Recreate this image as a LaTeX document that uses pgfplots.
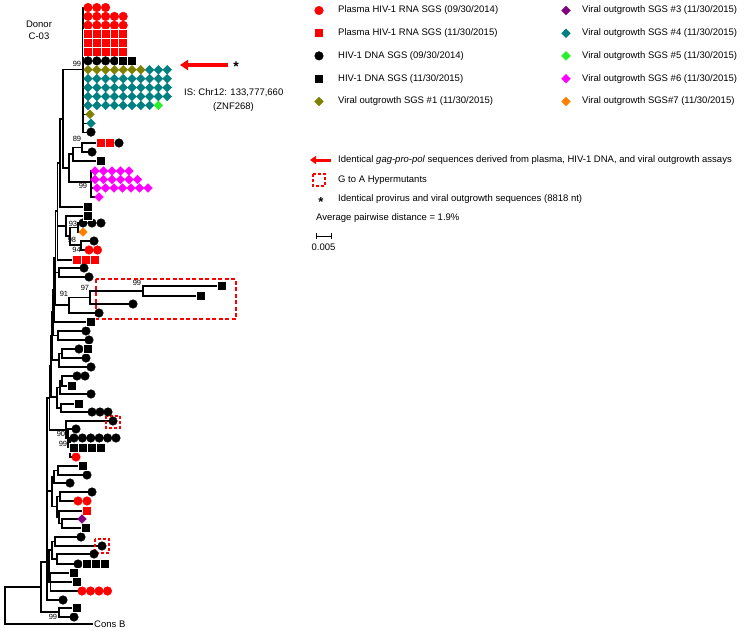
\documentclass[border=0pt]{standalone}
\usepackage{fontspec}
\setmainfont{Liberation Sans}
\usepackage{pgfplots}
\pgfplotsset{compat=1.18}
\usetikzlibrary{arrows.meta}
\definecolor{pred}{RGB}{255,0,0}
\definecolor{olv}{RGB}{128,128,0}
\definecolor{tl}{RGB}{0,128,128}
\definecolor{lgr}{RGB}{40,240,40}
\definecolor{mag}{RGB}{255,0,255}
\definecolor{purp}{RGB}{128,0,128}
\definecolor{orng}{RGB}{255,128,0}
\begin{document}
\begin{tikzpicture}
\begin{axis}[scale only axis, width=750pt, height=633pt,
  xmin=0, xmax=750, ymin=0, ymax=633, y dir=reverse,
  hide axis, clip=false, unbounded coords=jump,
  circ/.style={only marks, mark=*, mark size=4.3},
  sq/.style={only marks, mark=square*, mark size=4.5, mark options={draw=white, line width=0.6pt}},
  dia/.style={only marks, mark=square*, mark size=3.1, mark options={rotate=45}}]
\path (axis cs:0,0) rectangle (axis cs:750,633);
% tree branches
\addplot[black, line width=1.1pt, mark=none] coordinates {
(88,7.5)(83,7.5)(83,132.1)(91,132.1) (nan,nan)
(83,114.3)(90,114.3) (nan,nan)
(83,123.2)(91,123.2) (nan,nan)
(83,69.8)(63,69.8)(63,168)(69,168) (nan,nan)
(73,154)(69,154)(69,182)(91,182) (nan,nan)
(82,147.5)(73,147.5)(73,161)(101,161) (nan,nan)
(101,143)(82,143)(82,152)(92,152) (nan,nan)
(95,171)(91,171)(91,197)(99,197) (nan,nan)
(91,179.5)(95,179.5) (nan,nan)
(91,188)(97,188) (nan,nan)
(63,119)(60,119)(60,207)(88,207) (nan,nan)
(60,163)(57.5,163)(57.5,260)(77,260) (nan,nan)
(57.5,226)(66,226) (nan,nan)
(88,216)(66,216)(66,236)(70,236) (nan,nan)
(78,227.5)(70,227.5)(70,245)(81,245) (nan,nan)
(83,223)(78,223)(78,232)(83,232) (nan,nan)
(94,241)(81,241)(81,250)(89,250) (nan,nan)
(57.5,211)(55.5,211)(55.5,305)(69,305) (nan,nan)
(55.5,272.5)(59,272.5) (nan,nan)
(84,268)(59,268)(59,277)(89,277) (nan,nan)
(90,297.5)(69,297.5)(69,313)(99,313) (nan,nan)
(143,291)(90,291)(90,304)(133,304) (nan,nan)
(222,286)(143,286)(143,296)(201,296) (nan,nan)
(55.5,258)(54,258)(54,322)(91,322) (nan,nan)
(54,290)(53,290)(53,335.5)(58,335.5) (nan,nan)
(86,331)(58,331)(58,340)(89,340) (nan,nan)
(53,312)(52,312)(52,360)(59,360) (nan,nan)
(62,353.5)(59,353.5)(59,367)(91,367) (nan,nan)
(79,349)(62,349)(62,358)(86,358) (nan,nan)
(52,336)(51,336)(51,397)(57,397) (nan,nan)
(60,387.5)(57,387.5)(57,408)(61,408) (nan,nan)
(62,381)(60,381)(60,394)(91,394) (nan,nan)
(77,376)(62,376)(62,386)(72,386) (nan,nan)
(79,404)(61,404)(61,412)(92,412) (nan,nan)
(51,366)(49.5,366)(49.5,430)(66,430) (nan,nan)
(113,421)(66,421)(66,438)(68,438) (nan,nan)
(76,429)(68,429)(68,447.5)(70,447.5) (nan,nan)
(74,438)(70,438)(70,457)(76,457) (nan,nan)
(70,448)(74,448) (nan,nan)
(49.5,398)(47,398)(47,600)(63,600) (nan,nan)
(47,491)(52,491) (nan,nan)
(47,566)(49,566) (nan,nan)
(54,476.5)(52,476.5)(52,506.5)(57,506.5) (nan,nan)
(58,470.5)(54,470.5)(54,483)(70,483) (nan,nan)
(83,466)(58,466)(58,475)(87,475) (nan,nan)
(60,496.5)(57,496.5)(57,517)(59,517) (nan,nan)
(92,492)(60,492)(60,501)(78,501) (nan,nan)
(87,511)(59,511)(59,523.5)(62,523.5) (nan,nan)
(82,519)(62,519)(62,528)(86,528) (nan,nan)
(52,550)(49,550)(49,582)(50.5,582) (nan,nan)
(55,541.5)(52,541.5)(52,559)(57,559) (nan,nan)
(81,537)(55,537)(55,546)(102,546) (nan,nan)
(94,554)(57,554)(57,564)(78,564) (nan,nan)
(74,573)(50.5,573)(50.5,591)(82,591) (nan,nan)
(50.5,582)(77,582) (nan,nan)
(47,562)(41,562)(41,612)(59,612) (nan,nan)
(77,608)(59,608)(59,617)(74,617) (nan,nan)
(41,587)(5,587)(5,624)(93,624)
};
% hypermutant boxes
\draw[pred, line width=1.3pt, dash pattern=on 4pt off 2.5pt] (axis cs:96,279) rectangle (axis cs:236,319);
\draw[pred, line width=1.3pt, dash pattern=on 3pt off 2pt] (axis cs:106,416) rectangle (axis cs:120,428);
\draw[pred, line width=1.3pt, dash pattern=on 3pt off 2pt] (axis cs:95,539) rectangle (axis cs:109,553);
% red circles: plasma RNA 2014
\addplot[circ, color=pred] coordinates {
(88,7.5)(96.8,7.5)(105.6,7.5)
(88,16.4)(96.8,16.4)(105.6,16.4)(114.4,16.4)(123.2,16.4)
(88,25.3)(96.8,25.3)(105.6,25.3)(114.4,25.3)(123.2,25.3)
(89,250)(97.5,250)(76,457)(78,501)(87,501)(82,591)(90.5,591)(99,591)(107.5,591)
(319,10.5)};
% red squares: plasma RNA 2015
\addplot[sq, color=pred] coordinates {
(88,34.2)(96.8,34.2)(105.6,34.2)(114.4,34.2)(123.2,34.2)
(88,43.1)(96.8,43.1)(105.6,43.1)(114.4,43.1)(123.2,43.1)
(88,52)(96.8,52)(105.6,52)(114.4,52)(123.2,52)
(101,143)(110,143)(77,260)(86,260)(95,260)(87,511)
(319,33.2)};
% black circles: DNA 2014
\addplot[circ, color=black] coordinates {
(88,60.9)(96.8,60.9)(105.6,60.9)(114.4,60.9)
(91,132.1)(119,143)(92,152)(83,223)(92,223)(101,223)(94,241)
(84,268)(89,277)(133,304)(99,313)(86,331)(89,340)(79,349)(86,358)(91,367)
(77,376)(85,376)(91,394)(92,412)(100,412)(108,412)(113,421)(76,429)
(74,438)(82.4,438)(90.8,438)(99.2,438)(107.6,438)(116,438)
(87,475)(70,483)(92,492)(81,537)(102,546)(94,554)(78,564)(63,600)(74,617)
(319,55.9)};
% black squares: DNA 2015
\addplot[sq, color=black] coordinates {
(123.2,60.9)(132,60.9)(101,161)(88,207)(88,216)(222,286)(201,296)(91,322)
(88,349)(72,386)(79,404)(74,448)(83,448)(92,448)(101,448)
(83,466)(86,528)(87,564)(96,564)(105,564)(74,573)(77,582)(77,608)
(319,78.7)};
% viral outgrowth #1
\addplot[dia, color=olv] coordinates {
(88,69.8)(96.8,69.8)(105.6,69.8)(114.4,69.8)(123.2,69.8)(132,69.8)(140.8,69.8)
(90,114.3)(319,101.5)};
% viral outgrowth #4
\addplot[dia, color=tl] coordinates {
(149.6,69.8)(158.4,69.8)(167.2,69.8)
(88,78.7)(96.8,78.7)(105.6,78.7)(114.4,78.7)(123.2,78.7)(132,78.7)(140.8,78.7)(149.6,78.7)(158.4,78.7)(167.2,78.7)
(88,87.6)(96.8,87.6)(105.6,87.6)(114.4,87.6)(123.2,87.6)(132,87.6)(140.8,87.6)(149.6,87.6)(158.4,87.6)(167.2,87.6)
(88,96.5)(96.8,96.5)(105.6,96.5)(114.4,96.5)(123.2,96.5)(132,96.5)(140.8,96.5)(149.6,96.5)(158.4,96.5)(167.2,96.5)
(88,105.4)(96.8,105.4)(105.6,105.4)(114.4,105.4)(123.2,105.4)(132,105.4)(140.8,105.4)(149.6,105.4)
(91,123.2)(566,33.2)};
% viral outgrowth #5
\addplot[dia, color=lgr] coordinates {(158.4,105.4)(566,55.9)};
% viral outgrowth #6
\addplot[dia, color=mag] coordinates {
(95,171)(103.5,171)(112,171)(120.5,171)(129,171)
(95,179.5)(103.5,179.5)(112,179.5)(120.5,179.5)(129,179.5)(137.5,179.5)
(97,188)(105.5,188)(114,188)(122.5,188)(131,188)(139.5,188)(148,188)
(99,197)(566,78.7)};
% viral outgrowth #3
\addplot[dia, color=purp] coordinates {(82,519)(566,10.5)};
% viral outgrowth #7
\addplot[dia, color=orng] coordinates {(83,232)(566,101.5)};
% bootstrap labels
\begin{scope}[every node/.style={font=\fontsize{7.5}{8}\selectfont, inner sep=0pt}]
\node at (axis cs:77,64) {99};
\node at (axis cs:77,139) {89};
\node at (axis cs:83,186) {99};
\node at (axis cs:73,224) {93};
\node at (axis cs:72,240) {98};
\node at (axis cs:76.5,250) {94};
\node at (axis cs:85,288) {97};
\node at (axis cs:64,294) {91};
\node at (axis cs:137,283) {99};
\node at (axis cs:61,434) {90};
\node at (axis cs:63,443.5) {99};
\node at (axis cs:53,617) {99};
\end{scope}
\begin{scope}[every node/.style={font=\fontsize{9.5}{11}\selectfont, inner sep=0pt}]
\node at (axis cs:39,24) {Donor};
\node at (axis cs:39,36) {C-03};
\node[anchor=west] at (axis cs:94,624) {Cons B};
\node[anchor=west] at (axis cs:184,93) {IS: Chr12: 133,777,660};
\node[anchor=west] at (axis cs:213,107) {(ZNF268)};
\node at (axis cs:236,67) {\fontsize{14}{14}\selectfont\bfseries *};
% legend texts
\node[anchor=west] at (axis cs:338,10.5) {Plasma HIV-1 RNA SGS (09/30/2014)};
\node[anchor=west] at (axis cs:338,33.2) {Plasma HIV-1 RNA SGS (11/30/2015)};
\node[anchor=west] at (axis cs:338,55.9) {HIV-1 DNA SGS (09/30/2014)};
\node[anchor=west] at (axis cs:338,78.7) {HIV-1 DNA SGS (11/30/2015)};
\node[anchor=west] at (axis cs:338,101.5) {Viral outgrowth SGS \#1 (11/30/2015)};
\node[anchor=west] at (axis cs:582,10.5) {Viral outgrowth SGS \#3 (11/30/2015)};
\node[anchor=west] at (axis cs:582,33.2) {Viral outgrowth SGS \#4 (11/30/2015)};
\node[anchor=west] at (axis cs:582,55.9) {Viral outgrowth SGS \#5 (11/30/2015)};
\node[anchor=west] at (axis cs:582,78.7) {Viral outgrowth SGS \#6 (11/30/2015)};
\node[anchor=west] at (axis cs:582,101.5) {Viral outgrowth SGS\#7 (11/30/2015)};
\node[anchor=west] at (axis cs:338,160) {Identical \textit{gag-pro-pol} sequences derived from plasma, HIV-1 DNA, and viral outgrowth assays};
\node[anchor=west] at (axis cs:338,180) {G to A Hypermutants};
\node[anchor=west] at (axis cs:338,199) {Identical provirus and viral outgrowth sequences (8818 nt)};
\node at (axis cs:321,202) {\fontsize{13}{13}\selectfont\bfseries *};
\node[anchor=west] at (axis cs:316,218) {Average pairwise distance = 1.9\%};
\node at (axis cs:323.5,247) {0.005};
\end{scope}
% arrows and legend symbols
\draw[pred, line width=3.5pt, -{Triangle[length=8pt,width=10pt]}] (axis cs:228,65) -- (axis cs:180,65);
\draw[pred, line width=3pt, -{Triangle[length=6pt,width=8pt]}] (axis cs:331,160) -- (axis cs:310,160);
\draw[pred, line width=1.3pt, dash pattern=on 3pt off 2pt] (axis cs:313,174) rectangle (axis cs:325,186);
\addplot[black, line width=1pt, mark=none] coordinates {(316,233)(316,239) (nan,nan) (316,236)(331,236) (nan,nan) (331,233)(331,239)};
\end{axis}
\end{tikzpicture}
\end{document}
